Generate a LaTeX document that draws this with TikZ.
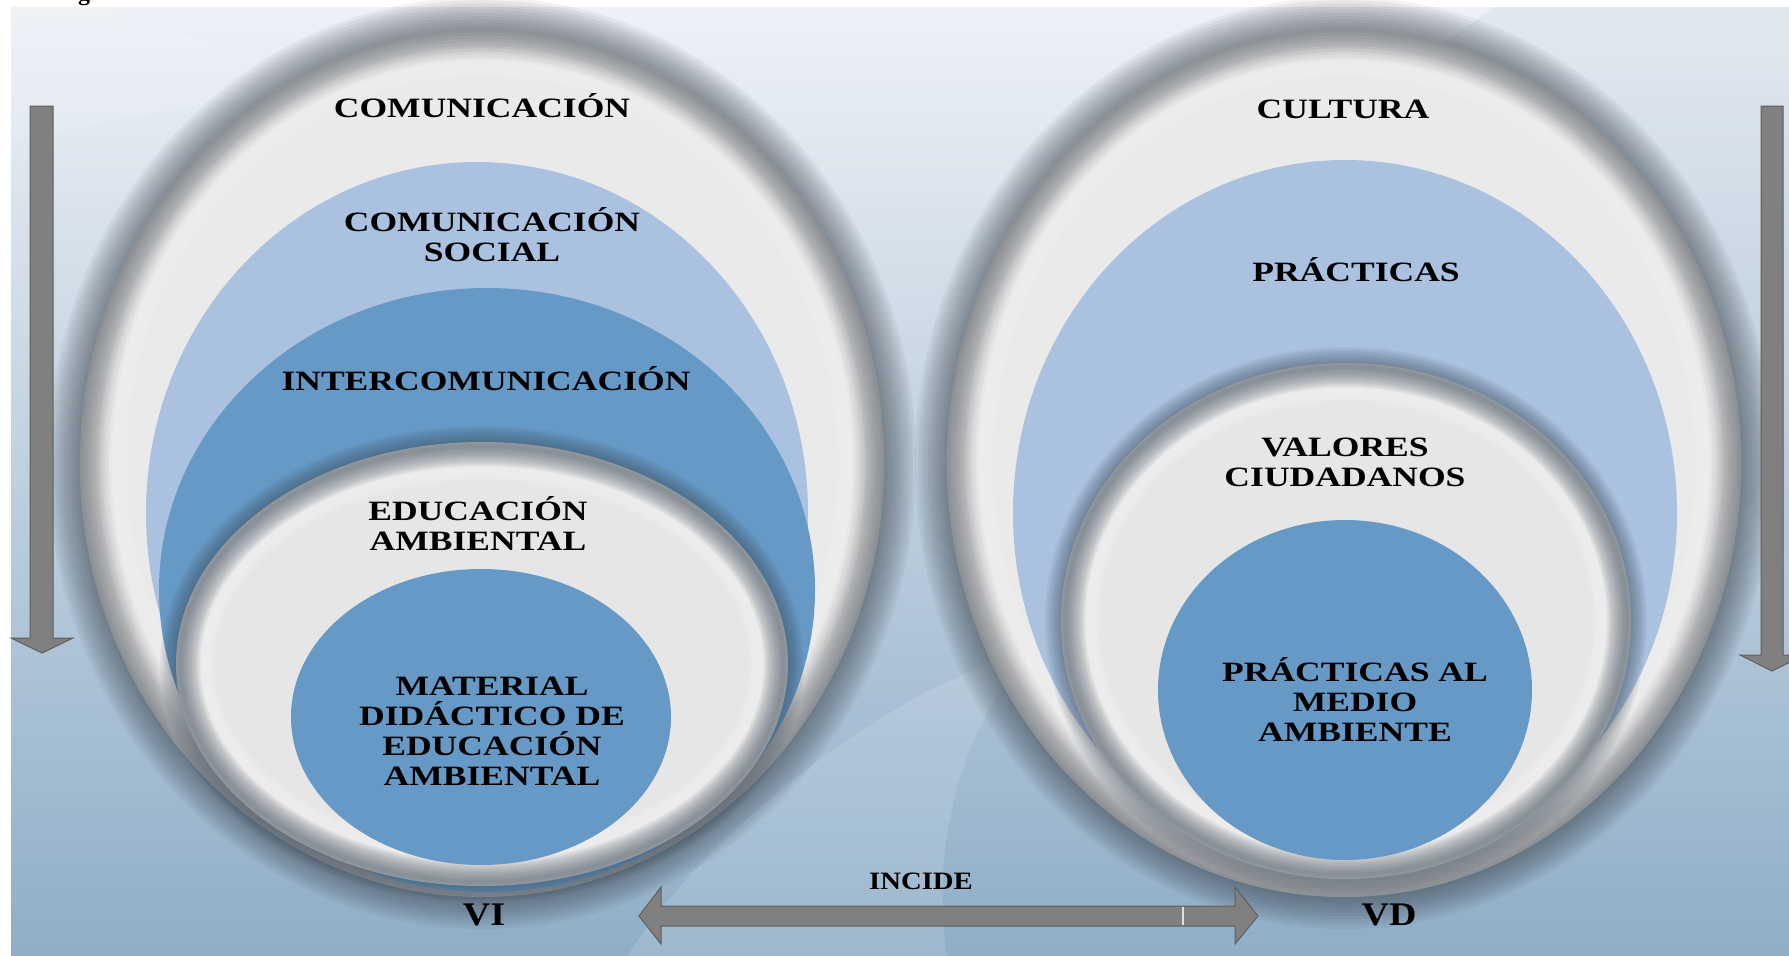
\documentclass[tikz,border=0pt]{standalone}
\usepackage{fontspec}
\setmainfont{Liberation Serif}
\newfontfamily\labfont{Liberation Serif}[FakeStretch=1.27]
\newfontfamily\labfontb{Liberation Serif}[FakeStretch=1.15]
\definecolor{bgtop}{HTML}{EEF1F6}
\definecolor{bgmid}{HTML}{D0DCE6}
\definecolor{bgbot}{HTML}{8FAEC7}
\definecolor{lblue}{HTML}{AAC1DF}
\definecolor{mblue}{HTML}{6699C5}
\definecolor{ringdark}{HTML}{3A4048}
\definecolor{ringin}{HTML}{3A4756}
\definecolor{outerin}{HTML}{EAEAEA}
\definecolor{innergray}{HTML}{E6E6E6}
\definecolor{arrowgray}{HTML}{808080}
\definecolor{arrowedge}{HTML}{5E5E5E}
\newcommand\softring[7]{%
  \foreach \k in {1,...,10}{%
    \pgfmathsetmacro\srlw{#5*\k/10}%
    \draw[draw=#6, line width=\srlw pt, opacity=#7] (#1,#2) ellipse [x radius=#3, y radius=#4];
  }%
}
\tikzset{
  lbl/.style={font=\labfont\bfseries\fontsize{28}{30}\selectfont, align=center, inner sep=0pt, text=black},
  lblb/.style={font=\labfontb\bfseries\fontsize{33}{36}\selectfont, inner sep=0pt, text=black},
  lblc/.style={font=\labfontb\bfseries\fontsize{25}{28}\selectfont, inner sep=0pt, text=black},
  blockarrow/.style={fill=arrowgray, draw=arrowedge, line width=1pt, line join=miter},
}
\begin{document}
\begin{tikzpicture}[x=1pt,y=-1pt]
\useasboundingbox (0,0) rectangle (1789,956);
\clip (0,0) rectangle (1789,956);
\fill[white] (0,0) rectangle (1789,956);
% caption fragment
\node[font=\bfseries\fontsize{24}{24}\selectfont, anchor=base, inner sep=0pt] (capg) at (84,0) {g};
% background
\shade[top color=bgtop, middle color=bgmid, bottom color=bgbot] (11,7) rectangle (1789,956);
\fill[white, opacity=0.13] (627,956) .. controls (690,860) and (800,760) .. (930,690)
  -- (1040,640) .. controls (960,720) and (930,850) .. (947,956) -- cycle;
\fill[white, opacity=0.10] (11,7) -- (100,7) -- (330,80) -- (11,140) -- cycle;
\fill[bgbot, opacity=0.12] (1495,7) -- (1789,7) -- (1789,560) -- (1420,60) -- cycle;

% ===== LEFT GROUP =====
\fill[outerin] (482,463) ellipse [x radius=402, y radius=434];
\softring{482}{463}{402}{434}{64}{ringdark}{0.065}
\softring{482}{463}{370}{402}{30}{white}{0.05}
\fill[lblue] (477,513) ellipse [x radius=331, y radius=351];
\fill[mblue] (487,590) ellipse [x radius=328, y radius=302];
\fill[innergray] (482,664) ellipse [x radius=306, y radius=222];
\softring{482}{664}{302}{218}{40}{ringin}{0.07}
\softring{482}{664}{276}{192}{18}{white}{0.05}
\fill[mblue] (481,717) ellipse [x radius=190, y radius=148];

% ===== RIGHT GROUP =====
\fill[outerin] (1344,463) ellipse [x radius=397, y radius=434];
\softring{1344}{463}{397}{434}{64}{ringdark}{0.065}
\softring{1344}{463}{365}{402}{30}{white}{0.05}
\fill[lblue] (1345,513) ellipse [x radius=332, y radius=353];
\fill[innergray] (1346,621) ellipse [x radius=285, y radius=258];
\softring{1346}{621}{281}{254}{40}{ringin}{0.07}
\softring{1346}{621}{255}{228}{18}{white}{0.05}
\fill[mblue] (1345,690) ellipse [x radius=187, y radius=170];

% ===== LABELS =====
\node[lbl] (comu) at (482,106) {COMUNICACIÓN};
\node[lbl] (comusoc) at (492,235) {COMUNICACIÓN\\SOCIAL};
\node[lbl] (inter) at (486,379) {INTERCOMUNICACIÓN};
\node[lbl] (educ) at (478,524) {EDUCACIÓN\\AMBIENTAL};
\node[lbl] (mat) at (492,731) {MATERIAL\\DIDÁCTICO DE\\EDUCACIÓN\\AMBIENTAL};
\node[lbl] (cult) at (1343,109) {CULTURA};
\node[lbl] (prac) at (1356,270) {PRÁCTICAS};
\node[lbl] (val) at (1345,462) {VALORES\\CIUDADANOS};
\node[lbl] (pracma) at (1355,700) {PRÁCTICAS AL\\MEDIO\\AMBIENTE};
\node[lblb] (vi) at (484,915) {VI};
\node[lblb] (vd) at (1389,915) {VD};
\node[lblc] (incide) at (921,881) {INCIDE};

% ===== ARROWS =====
\filldraw[blockarrow] (30,106) -- (53,106) -- (53,638) -- (73,638) -- (42,653) -- (11,638) -- (30,638) -- cycle;
\filldraw[blockarrow] (1761,106) -- (1783,106) -- (1783,655) -- (1804,655) -- (1772,671) -- (1740,655) -- (1761,655) -- cycle;
\filldraw[blockarrow] (639,916) -- (661,887) -- (661,906) -- (1235,906) -- (1235,887) -- (1258,916)
  -- (1235,944) -- (1235,926) -- (661,926) -- (661,944) -- cycle;
\draw[white!75!arrowgray, line width=1.2pt] (1183,907) -- (1183,925);
\end{tikzpicture}
\end{document}
